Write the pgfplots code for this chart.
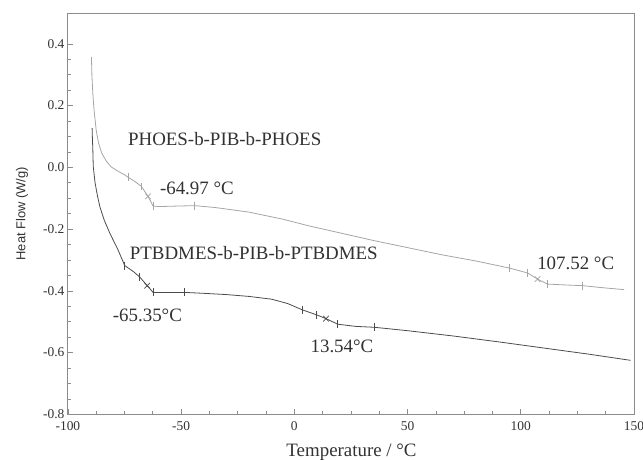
\documentclass[border=0pt]{standalone}
\usepackage{pgfplots}
\pgfplotsset{compat=1.18}
\usetikzlibrary{calc}
\usepackage{fontspec}
\setmainfont{Liberation Serif}
\newfontfamily\arial{Liberation Sans}
\definecolor{upper}{RGB}{165,165,165}
\definecolor{lower}{RGB}{75,75,75}
\definecolor{axgray}{RGB}{140,140,140}
\definecolor{txt}{RGB}{50,50,50}
\begin{document}
\begin{tikzpicture}
\begin{axis}[
    scale only axis,
    width=567bp, height=402bp,
    xmin=-100, xmax=150, ymin=-0.8, ymax=0.5,
    xtick={-100,-50,0,50,100,150},
    ytick={-0.8,-0.6,-0.4,-0.2,0,0.2,0.4},
    yticklabels={-0.8,-0.6,-0.4,-0.2,0.0,0.2,0.4},
    xticklabels={-100,-50,0,50,100,150},
    minor x tick num=3, minor y tick num=3,
    tick pos=left, tick align=inside,
    major tick length=5bp, minor tick length=3bp,
    axis line style={axgray, line width=0.9pt},
    every tick/.style={axgray, line width=0.7pt},
    tick label style={font=\fontsize{13.5}{16}\selectfont, text=txt},
    xticklabel style={yshift=-4bp},
    xlabel={Temperature / °C},
    ylabel={Heat Flow (W/g)},
    every axis x label/.style={at={(axis description cs:0.501,0)}, anchor=base, yshift=-42bp, font=\fontsize{19}{22}\selectfont, text=txt},
    every axis y label/.style={at={(axis description cs:-0.081,0.5)}, anchor=center, rotate=90, font=\arial\fontsize{13}{15}\selectfont, text=txt},
    clip=false,
]
% PHOES-b-PIB-b-PHOES
\addplot[upper, line width=0.8pt] coordinates {
 (-89.6,0.358) (-89.4,0.30) (-89.0,0.24) (-88.5,0.19) (-87.5,0.12) (-86.5,0.08)
 (-85,0.045) (-83,0.02) (-81,0.002) (-78,-0.012) (-75,-0.024) (-73.4,-0.032)
 (-70,-0.048) (-67.5,-0.062) (-64.6,-0.094) (-62.4,-0.125) (-60,-0.127)
 (-55,-0.126) (-50,-0.125) (-44,-0.124) (-35,-0.130) (-20,-0.145) (-5,-0.168)
 (6.7,-0.19) (20,-0.212) (35,-0.237) (50,-0.26) (65,-0.283) (80,-0.303)
 (94.9,-0.326) (103,-0.342) (107.4,-0.362) (111.8,-0.378) (120,-0.381)
 (127.2,-0.383) (135,-0.389) (145.6,-0.396)};
\addplot[upper, only marks, mark=|, mark size=4bp, line width=0.7pt] coordinates {
 (-73.4,-0.032) (-67.5,-0.062) (-62.4,-0.125) (-44,-0.124)
 (94.9,-0.326) (103,-0.342) (111.8,-0.378) (127.2,-0.383)};
\addplot[upper, only marks, mark=x, mark size=4bp, line width=0.7pt] coordinates {
 (-64.6,-0.094) (107.4,-0.362)};
% PTBDMES-b-PIB-b-PTBDMES
\addplot[lower, line width=0.8pt] coordinates {
 (-89.3,0.127) (-89.2,0.10) (-89.0,0.06) (-88.8,0.003) (-88,-0.05) (-87,-0.09)
 (-85.9,-0.127) (-84,-0.17) (-81.5,-0.213) (-78,-0.265) (-74.9,-0.318)
 (-71,-0.338) (-68.3,-0.355) (-65,-0.383) (-62.4,-0.405) (-55,-0.405)
 (-48.4,-0.405) (-40,-0.408) (-30,-0.412) (-20,-0.418) (-10,-0.427) (-3,-0.441)
 (3.7,-0.462) (9.6,-0.477) (14,-0.49) (19.2,-0.508) (27,-0.515) (35.4,-0.518)
 (50,-0.529) (70,-0.546) (90,-0.565) (110,-0.585) (130,-0.605) (148.5,-0.625)};
\addplot[lower, only marks, mark=|, mark size=4bp, line width=0.7pt] coordinates {
 (-74.9,-0.318) (-68.3,-0.355) (-62.4,-0.405) (-48.4,-0.405)
 (3.7,-0.462) (9.6,-0.477) (19.2,-0.508) (35.4,-0.518)};
\addplot[lower, only marks, mark=x, mark size=4bp, line width=0.7pt] coordinates {
 (-65,-0.383) (14,-0.49)};
% annotations
\node[anchor=base west, inner sep=0, text=txt, font=\fontsize{19}{22}\selectfont] at (axis cs:-73.5,0.070) {PHOES-b-PIB-b-PHOES};
\node[anchor=base west, inner sep=0, text=txt, font=\fontsize{19}{22}\selectfont] at (axis cs:-72.7,-0.299) {PTBDMES-b-PIB-b-PTBDMES};
\node[anchor=base west, inner sep=0, text=txt, font=\fontsize{19}{22}\selectfont] at (axis cs:-59.4,-0.089) {-64.97 °C};
\node[anchor=base west, inner sep=0, text=txt, font=\fontsize{19}{22}\selectfont] at (axis cs:-80.2,-0.500) {-65.35°C};
\node[anchor=base west, inner sep=0, text=txt, font=\fontsize{19}{22}\selectfont] at (axis cs:107.2,-0.331) {107.52 °C};
\node[anchor=base west, inner sep=0, text=txt, font=\fontsize{19}{22}\selectfont] at (axis cs:7.1,-0.600) {13.54°C};
\end{axis}
\pgfresetboundingbox
\useasboundingbox ($(current axis.south west)+(-68bp,-45bp)$) rectangle ($(current axis.north east)+(9bp,13bp)$);
\end{tikzpicture}
\end{document}
